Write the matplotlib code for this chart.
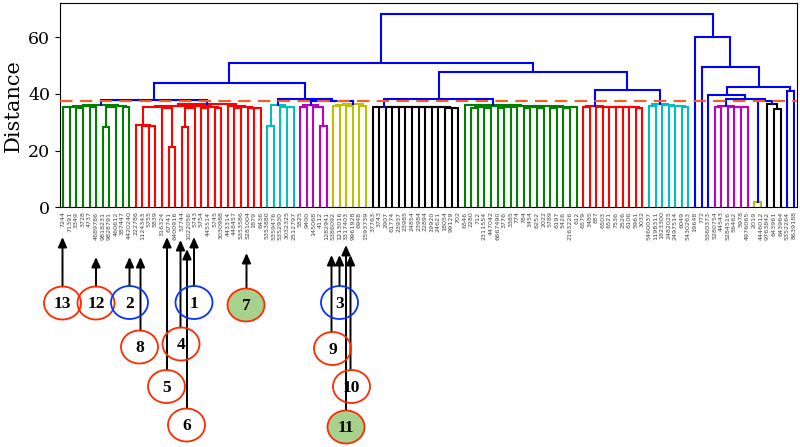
import matplotlib
matplotlib.use('Agg')
import matplotlib.pyplot as plt
from matplotlib.patches import Ellipse

# dendrogram data: nested (left, right, height), 0 = leaf
def comb(heights):
    # right comb, heights from outer to inner merge
    node = (0, 0, heights[-1])
    for h in reversed(heights[:-1]):
        node = (0, node, h)
    return node

green1 = ((((0, 0, 35.3), (0, 0, 35.2), 35.5), (0, 0, 35.3), 35.8),
          ((((0, 0, 28.4), 0, 35.4), (0, 0, 35.3), 35.7)), 36.2)
red1_a = ((0, ((0, 0, 28.6), 0, 28.8), 29.0), (0, (0, 0, 21.2), 35.1), 35.4)
red1_b = (((0, 0, 28.5), 0, 35.2), ((0, 0, 35.1), (0, 0, 35.2), 35.4), 35.6)
red1_c = (0, ((0, 0, 35.0), (0, (0, 0, 34.9), 35.1), 35.3), 35.6)
red1 = ((red1_a, red1_b, 35.9), red1_c, 36.4)
cyan1 = ((0, 0, 28.6), (0, (0, 0, 35.3), 35.5), 36.0)
magenta1 = ((0, 0, 35.4), (0, (0, 0, 28.6), 35.5), 36.0)
yellow1 = (((0, 0, 35.6), (0, 0, 35.7), 36.0), (0, 0, 35.8), 36.6)
black1 = ((0, 0, 35.3), comb([35.42, 35.4, 35.37, 35.35, 35.34, 35.31, 35.3, 35.28, 35.25, 35.22, 35.2]), 35.45)
green2_rest = ((((0, 0, 35.2), (0, 0, 35.2), 35.4), ((0, 0, 35.2), (0, 0, 35.3), 35.4), 35.6),
               (((0, 0, 35.2), (0, 0, 35.2), 35.4), ((0, 0, 35.2), ((0, 0, 35.1), 0, 35.3), 35.4), 35.6), 35.8)
green2 = (0, green2_rest, 36.0)
red2 = ((0, 0, 35.3), comb([35.5, 35.45, 35.4, 35.35, 35.3, 35.25, 35.2]), 35.6)
cyan2 = ((0, 0, 35.6), comb([36.0, 35.8, 35.6, 35.5]), 36.3)
magenta2 = ((0, 0, 35.3), comb([35.5, 35.4, 35.3]), 35.6)
yellow2 = (0, 0, 1.8)
black2 = (0, (0, 0, 34.8), 36.6)

left_a = ((green1, red1, 37.7), (cyan1, (magenta1, yellow1, 37.4), 38.2), 43.9)
left_b = ((black1, green2, 38.2), (red2, cyan2, 41.3), 47.8)
right = (0, (0, ((0, (magenta2, (yellow2, black2, 37.6), 38.3), 39.5), (0, 0, 41.1), 42.6), 49.5), 60.1)
root = ((left_a, left_b, 50.9), right, 68.4)

labels = ['7244', '71391', '3349', '3728', '4737', '4689786', '9818231', '9828791', '460612', '387447',
          '4420240', '222786', '1124343', '5755', '5839', '316324', '67741', '6400916', '57744', '1022056',
          '5743', '5754', '445514', '5745', '3030988', '443314', '448457', '5353586', '5281004', '1879',
          '6436', '5353880', '5359476', '5352930', '3032325', '2512797', '5825', '9400', '145068', '4112',
          '1282941', '5386092', '1213016', '3317403', '9961928', '6948', '1593739', '37763', '3743', '2907',
          '61774', '23937', '23985', '24854', '23984', '22894', '19920', '24621', '18054', '99129',
          '702', '6546', '2280', '712', '2311554', '447042', '6667490', '3776', '3385', '774',
          '784', '3454', '6252', '2022', '5789', '6197', '5426', '2163226', '612', '6579',
          '3485', '887', '6503', '6521', '7536', '2526', '6106', '5961', '3032', '5460037',
          '1198311', '1823300', '2482025', '2497514', '6049', '5430263', '19648', '772', '5360373', '5280754',
          '44543', '5284516', '56462', '5978', '4976065', '2019', '4446012', '9763842', '643961', '643964',
          '5352264', '8639188']

cut_color = 37.0
cut_line = 37.5
palette = ['g', 'r', 'c', 'm', 'y', 'k']

# circled markers below the leaves: text, circle centre (px), arrow x (px), arrow tip y (px), edge, face
RED = '#ff2a00'
BLUE = '#0a32ff'
GREEN = '#a9d18e'
marks = [
    ('13', 62.5, 303, 62.5, 237, RED, 'none'),
    ('12', 96, 303, 96, 257, RED, 'none'),
    ('2', 129.5, 302.5, 129.5, 257, BLUE, 'none'),
    ('8', 139.5, 347, 140.5, 257, RED, 'none'),
    ('1', 194, 302.5, 194, 237, BLUE, 'none'),
    ('4', 181, 344, 180.5, 240, RED, 'none'),
    ('5', 166.5, 386.5, 167, 237, RED, 'none'),
    ('6', 186.5, 425, 187, 249, RED, 'none'),
    ('7', 246, 305, 246.5, 253, RED, GREEN),
    ('3', 339.5, 302.5, 339.5, 255, BLUE, 'none'),
    ('9', 332.5, 348.5, 331.5, 255, RED, 'none'),
    ('10', 351.5, 386.5, 350.5, 255, RED, 'none'),
    ('11', 346, 427, 346, 245, RED, GREEN),
]

W, H = 800, 447
fig = plt.figure(figsize=(W / 100, H / 100), dpi=100)
ax = fig.add_axes([60 / W, 1 - 207.3 / H, 737 / W, 204 / H])

pos = [0]
nclust = [0]


def draw(node, color=None):
    if not isinstance(node, tuple):
        x = 5 + 10 * pos[0]
        pos[0] += 1
        return x, 0.0
    left, right_, h = node
    if color is None and h < cut_color:
        color = palette[nclust[0] % len(palette)]
        nclust[0] += 1
    xl, hl = draw(left, color)
    xr, hr = draw(right_, color)
    ax.plot([xl, xl, xr, xr], [hl, h, h, hr], color=color or 'b', lw=1.5, solid_joinstyle='miter')
    return (xl + xr) / 2, h


draw(root)
n = pos[0]
ax.axhline(cut_line, color='#ff5a1f', ls=(0, (6, 3.5)), lw=1.5, zorder=5)

ax.set_xlim(0, 10 * n)
ax.set_ylim(0, 72)
ax.set_xticks([5 + 10 * i for i in range(n)])
ax.set_xticklabels(labels[:n], rotation=90, fontsize=4.6, color='#444444', family='DejaVu Sans')
ax.tick_params(axis='x', length=0, pad=3)
ax.set_yticks([0, 20, 40, 60])
ax.tick_params(axis='y', labelsize=12.5)
for t in ax.get_yticklabels():
    t.set_family('DejaVu Serif')
ax.set_ylabel('Distance', fontsize=15, family='DejaVu Serif')

for txt, cx, cy, axx, tip, ec, fc in marks:
    e = Ellipse((cx / W, 1 - cy / H), 37 / W, 33 / H, transform=fig.transFigure,
                facecolor=fc, edgecolor=ec, lw=1.3)
    fig.add_artist(e)
    fig.text(cx / W, 1 - (cy + 1) / H, txt, ha='center', va='center', fontsize=12.5,
             fontweight='bold', family='Liberation Serif')
    ax.annotate('', xy=(axx / W, 1 - tip / H), xycoords='figure fraction',
                xytext=(axx / W, 1 - (cy - 16.5) / H), textcoords='figure fraction',
                arrowprops=dict(arrowstyle='-|>,head_length=0.45,head_width=0.2', color='k',
                                lw=1.4, mutation_scale=13, shrinkA=0, shrinkB=0),
                annotation_clip=False)

fig.savefig('out.png', dpi=100)
